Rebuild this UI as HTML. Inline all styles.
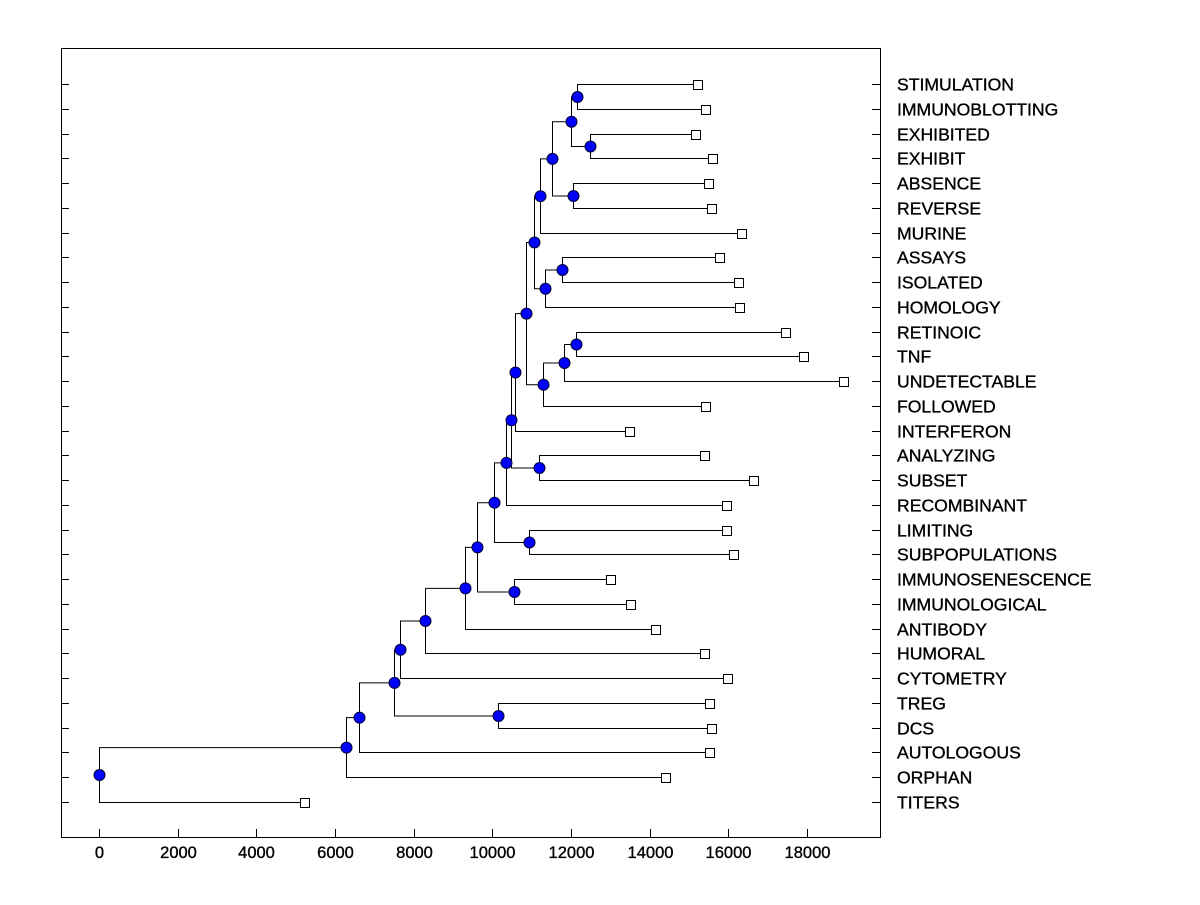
<!DOCTYPE html>
<html><head><meta charset="utf-8"><style>
body{margin:0;background:#fff;width:1200px;height:900px;overflow:hidden}
svg text{font-family:"Liberation Sans",Arial,sans-serif;fill:#000;stroke:#000;stroke-width:0.35}
</style></head><body>
<svg id="chart" width="1200" height="900" xmlns="http://www.w3.org/2000/svg">
<rect x="61.5" y="48.5" width="819" height="789" fill="none" stroke="#000" stroke-width="1"/>
<g id="ticks"></g><g id="links"></g><g id="nodes"></g><g id="labels"></g>
</svg>
<script>
const leafNames=["STIMULATION","IMMUNOBLOTTING","EXHIBITED","EXHIBIT","ABSENCE","REVERSE","MURINE","ASSAYS","ISOLATED","HOMOLOGY","RETINOIC","TNF","UNDETECTABLE","FOLLOWED","INTERFERON","ANALYZING","SUBSET","RECOMBINANT","LIMITING","SUBPOPULATIONS","IMMUNOSENESCENCE","IMMUNOLOGICAL","ANTIBODY","HUMORAL","CYTOMETRY","TREG","DCS","AUTOLOGOUS","ORPHAN","TITERS"];
const leafValues=[15200,15410,15150,15590,15480,15560,16320,15760,16250,16270,17440,17900,18920,15410,13480,15380,16630,15940,15940,16120,12990,13500,14140,15380,15970,15510,15560,15510,14390,5210];
const mergeA=[0,2,30,4,32,34,7,36,35,10,39,40,38,42,15,43,45,18,46,20,48,50,51,52,25,53,55,56,57];
const mergeB=[1,3,31,5,33,6,8,9,37,11,12,13,41,14,16,44,17,19,47,21,49,22,23,24,26,54,27,28,29];
const mergeHeights=[12150,12480,12000,12050,11520,11210,11770,11340,11060,12130,11820,11290,10860,10580,11190,10480,10350,10930,10040,10550,9610,9310,8290,7650,10140,7500,6610,6280,0];
const xTicks=[0,2000,4000,6000,8000,10000,12000,14000,16000,18000];

const X=v=>Math.round(99+v*(807-99)/18000)+0.5;
const Y=i=>Math.round(84+i*(802-84)/29)+0.5;
const NS="http://www.w3.org/2000/svg";
function mk(tag,attrs,parent){const e=document.createElementNS(NS,tag);for(const k in attrs)e.setAttribute(k,attrs[k]);document.getElementById(parent).appendChild(e);return e;}

xTicks.forEach(t=>{
  const l=mk('line',{x1:X(t),x2:X(t),y1:829,y2:837,stroke:'#000'},'ticks');
  
  
  const tx=mk('text',{x:X(t),y:858,'text-anchor':'middle','font-size':'16.5'},'ticks');
  tx.textContent=t;
  
  
});
leafNames.forEach((n,i)=>{
  const y=Y(i);
  const a=mk('line',{x1:61,x2:69,y1:y,y2:y,stroke:'#000'},'ticks');
  
  
  const b=mk('line',{x1:872,x2:880,y1:y,y2:y,stroke:'#000'},'ticks');
  
  
  const t=mk('text',{x:897,y:y+6,'font-size':'17.6'},'labels');
  t.textContent=n;
  
  
});

const px=[],py=[];
leafValues.forEach((v,i)=>{px.push(X(v));py.push(Y(i));});
mergeHeights.forEach((h,k)=>{
  const a=mergeA[k],b=mergeB[k];
  const x=X(h),ya=py[a],yb=py[b];
  px.push(x);py.push((ya+yb)/2);
  const p=mk('path',{d:`M${px[a]},${ya}H${x}V${yb}H${px[b]}`,fill:'none',stroke:'#000','stroke-width':1},'links');
  
  
});
mergeHeights.forEach((h,k)=>{
  const c=mk('circle',{cx:px[30+k],cy:py[30+k],r:5.5,fill:'#0000ff',stroke:'#000033','stroke-width':1},'nodes');
  
  
});
leafValues.forEach((v,i)=>{
  const r=mk('rect',{x:px[i]-4,y:py[i]-4,width:9,height:9,fill:'#fff',stroke:'#000','stroke-width':1},'nodes');
  
  
});
</script>
</body></html>
